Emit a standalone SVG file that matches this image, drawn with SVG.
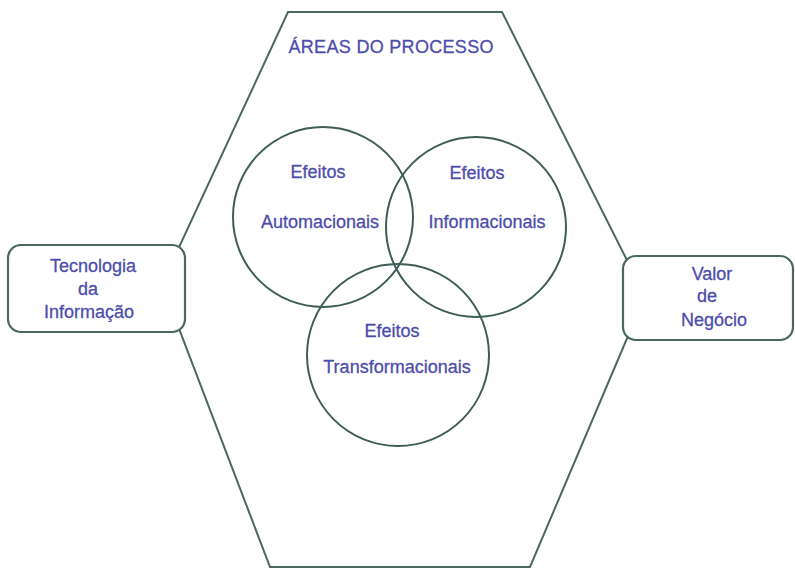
<svg xmlns="http://www.w3.org/2000/svg" width="795" height="569" viewBox="0 0 795 569">
  <style>
    .edge { fill: #ffffff; stroke: #4a6862; stroke-width: 2; }
    .ring { fill: none; stroke: #3f5d57; stroke-width: 2; }
    .box { fill: #ffffff; stroke: #4a6862; stroke-width: 2.2; }
    .lbl { font-family: "Liberation Sans", Arial, sans-serif; font-size: 18px; fill: #4d4dab; text-anchor: middle; stroke: #4d4dab; stroke-width: 0.3; }
  </style>
  <rect width="795" height="569" fill="#ffffff"/>

  <!-- process areas hexagon -->
  <g id="areas-processo">
    <polygon class="edge" points="288,12 502,12 645,296 530,567 270,567 162,284"/>
    <text class="lbl" x="391" y="53" textLength="205" lengthAdjust="spacing">ÁREAS  DO  PROCESSO</text>
  </g>

  <!-- overlapping effect circles -->
  <g id="efeitos-automacionais">
    <circle class="ring" cx="323" cy="217" r="90"/>
    <text class="lbl" x="318" y="178">Efeitos</text>
    <text class="lbl" x="320" y="228">Automacionais</text>
  </g>
  <g id="efeitos-informacionais">
    <circle class="ring" cx="476" cy="227" r="90"/>
    <text class="lbl" x="477" y="179">Efeitos</text>
    <text class="lbl" x="487" y="228">Informacionais</text>
  </g>
  <g id="efeitos-transformacionais">
    <circle class="ring" cx="398" cy="355" r="91"/>
    <text class="lbl" x="392" y="337">Efeitos</text>
    <text class="lbl" x="397" y="373">Transformacionais</text>
  </g>

  <!-- side boxes over the hexagon vertices -->
  <g id="tecnologia-informacao">
    <rect class="box" x="8" y="245" width="177" height="87" rx="13" ry="13"/>
    <text class="lbl" x="93" y="272">Tecnologia</text>
    <text class="lbl" x="88" y="295">da</text>
    <text class="lbl" x="89" y="318">Informação</text>
  </g>
  <g id="valor-negocio">
    <rect class="box" x="623" y="256" width="170" height="84" rx="13" ry="13"/>
    <text class="lbl" x="712" y="280">Valor</text>
    <text class="lbl" x="707" y="302">de</text>
    <text class="lbl" x="714" y="326">Negócio</text>
  </g>

  <g id="connectors"></g>
</svg>
